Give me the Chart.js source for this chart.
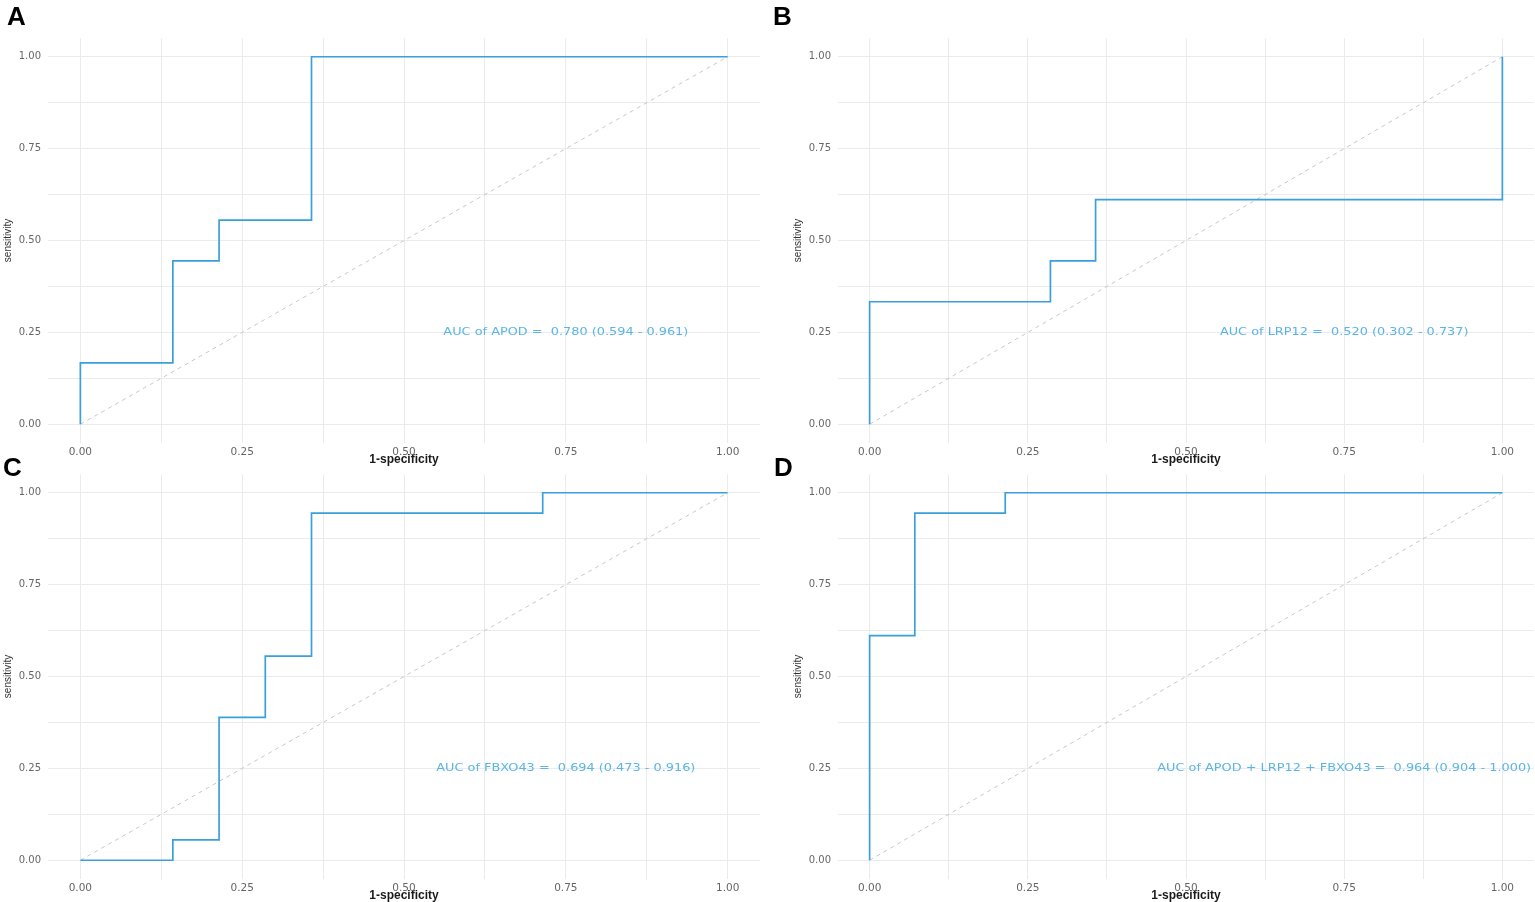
<!DOCTYPE html>
<html>
<head>
<meta charset="utf-8">
<script src="https://cdn.jsdelivr.net/npm/chart.js@4.4.0/dist/chart.umd.min.js"></script>
<style>
  html, body { margin: 0; padding: 0; background: #fff; overflow: hidden; }
  body { width: 1535px; height: 902px; position: relative; }
  .panel { position: absolute; }
  .letra { position: absolute; font: bold 26px "Liberation Sans", Arial, sans-serif; color: #000; line-height: 26px; }
</style>
</head>
<body>
<div class="panel" style="left:0;top:0;width:770px;height:468px"><canvas id="graficoA"></canvas></div>
<div class="panel" style="left:790px;top:0;width:745px;height:468px"><canvas id="graficoB"></canvas></div>
<div class="panel" style="left:0;top:436px;width:770px;height:468px"><canvas id="graficoC"></canvas></div>
<div class="panel" style="left:790px;top:436px;width:745px;height:468px"><canvas id="graficoD"></canvas></div>
<div class="letra" style="left:7px;top:3px">A</div>
<div class="letra" style="left:773px;top:3px">B</div>
<div class="letra" style="left:3px;top:454px">C</div>
<div class="letra" style="left:774px;top:454px">D</div>
<script>
const ticksEje = [0, 0.125, 0.25, 0.375, 0.5, 0.625, 0.75, 0.875, 1];

const fprApod = [0, 0, 0.1429, 0.1429, 0.2143, 0.2143, 0.3571, 0.3571, 1];
const tprApod = [0, 0.1667, 0.1667, 0.4444, 0.4444, 0.5556, 0.5556, 1, 1];

const fprLrp12 = [0, 0, 0.2857, 0.2857, 0.3571, 0.3571, 1, 1];
const tprLrp12 = [0, 0.3333, 0.3333, 0.4444, 0.4444, 0.6111, 0.6111, 1];

const fprFbxo43 = [0, 0.1429, 0.1429, 0.2143, 0.2143, 0.2857, 0.2857, 0.3571, 0.3571, 0.7143, 0.7143, 1];
const tprFbxo43 = [0, 0, 0.0556, 0.0556, 0.3889, 0.3889, 0.5556, 0.5556, 0.9444, 0.9444, 1, 1];

const fprCombo = [0, 0, 0.0714, 0.0714, 0.2143, 0.2143, 1];
const tprCombo = [0, 0.6111, 0.6111, 0.9444, 0.9444, 1, 1];

const diagonalX = [0, 1];
const diagonalY = [0, 1];

const textosAuc = [
  'AUC of APOD =  0.780 (0.594 - 0.961)',
  'AUC of LRP12 =  0.520 (0.302 - 0.737)',
  'AUC of FBXO43 =  0.694 (0.473 - 0.916)',
  'AUC of APOD + LRP12 + FBXO43 =  0.964 (0.904 - 1.000)'
];

const colorLinea = '#3aa0dc';
const colorTexto = '#5bb5e6';
const colorGrid = '#ebebeb';

function puntos(xs, ys) {
  return xs.map((x, i) => ({ x: x, y: ys[i] }));
}

// la figura original esta estirada a lo ancho, el texto tambien
const textoAucPlugin = {
  id: 'textoAuc',
  afterDatasetsDraw(chart, args, opts) {
    const ctx = chart.ctx;
    const px = chart.scales.x.getPixelForValue(0.75);
    const py = chart.scales.y.getPixelForValue(0.25);
    ctx.save();
    ctx.translate(px, py);
    ctx.scale(1.17, 1);
    ctx.font = '11px "DejaVu Sans", sans-serif';
    ctx.fillStyle = colorTexto;
    ctx.textAlign = 'center';
    ctx.textBaseline = 'middle';
    ctx.fillText(opts.texto, 0, 0);
    ctx.restore();
  }
};

function crearGraficoRoc(id, fpr, tpr, texto, padRight) {
  const ctx = document.getElementById(id).getContext('2d');
  return new Chart(ctx, {
    type: 'scatter',
    data: {
      datasets: [{
        data: puntos(diagonalX, diagonalY),
        showLine: true,
        borderColor: '#c8c8c8',
        borderWidth: 1,
        borderDash: [4, 4],
        pointRadius: 0,
        order: 2
      }, {
        data: puntos(fpr, tpr),
        showLine: true,
        borderColor: colorLinea,
        borderWidth: 1.7,
        pointRadius: 0,
        tension: 0,
        order: 1
      }]
    },
    plugins: [textoAucPlugin],
    options: {
      responsive: true,
      maintainAspectRatio: false,
      animation: false,
      layout: {
        padding: { top: 38.4, right: padRight, bottom: 0, left: 0 }
      },
      plugins: {
        legend: { display: false },
        tooltip: { enabled: false },
        textoAuc: { texto: texto }
      },
      scales: {
        x: {
          type: 'linear',
          min: -0.05,
          max: 1.05,
          afterBuildTicks: (scale) => { scale.ticks = ticksEje.map(v => ({ value: v })); },
          afterFit: (scale) => { scale.height = 25.4; },
          border: { display: false },
          grid: { color: colorGrid, drawTicks: false },
          ticks: {
            autoSkip: false,
            maxRotation: 0,
            padding: 3,
            color: '#666',
            font: { family: '"DejaVu Sans", sans-serif', size: 10.5 },
            callback: (v) => (v * 4) % 1 === 0 ? v.toFixed(2) : ''
          },
          title: {
            display: true,
            text: '1-specificity',
            color: '#1a1a1a',
            padding: { top: 0, bottom: 1 },
            font: { family: '"Liberation Sans", Arial, sans-serif', size: 12, weight: 'bold' }
          }
        },
        y: {
          type: 'linear',
          min: -0.05,
          max: 1.05,
          afterBuildTicks: (scale) => { scale.ticks = ticksEje.map(v => ({ value: v })); },
          afterFit: (scale) => { scale.width = 48; },
          border: { display: false },
          grid: { color: colorGrid, drawTicks: false },
          ticks: {
            autoSkip: false,
            padding: 7,
            color: '#666',
            font: { family: '"DejaVu Sans", sans-serif', size: 10 },
            callback: (v) => (v * 4) % 1 === 0 ? v.toFixed(2) : ''
          },
          title: {
            display: true,
            text: 'sensitivity',
            color: '#333',
            padding: { top: 2, bottom: 0 },
            font: { family: '"Liberation Sans Narrow", "Liberation Sans", Arial, sans-serif', size: 10 }
          }
        }
      }
    }
  });
}

crearGraficoRoc('graficoA', fprApod, tprApod, textosAuc[0], 10);
crearGraficoRoc('graficoB', fprLrp12, tprLrp12, textosAuc[1], 1);
crearGraficoRoc('graficoC', fprFbxo43, tprFbxo43, textosAuc[2], 10);
crearGraficoRoc('graficoD', fprCombo, tprCombo, textosAuc[3], 1);
</script>
</body>
</html>
